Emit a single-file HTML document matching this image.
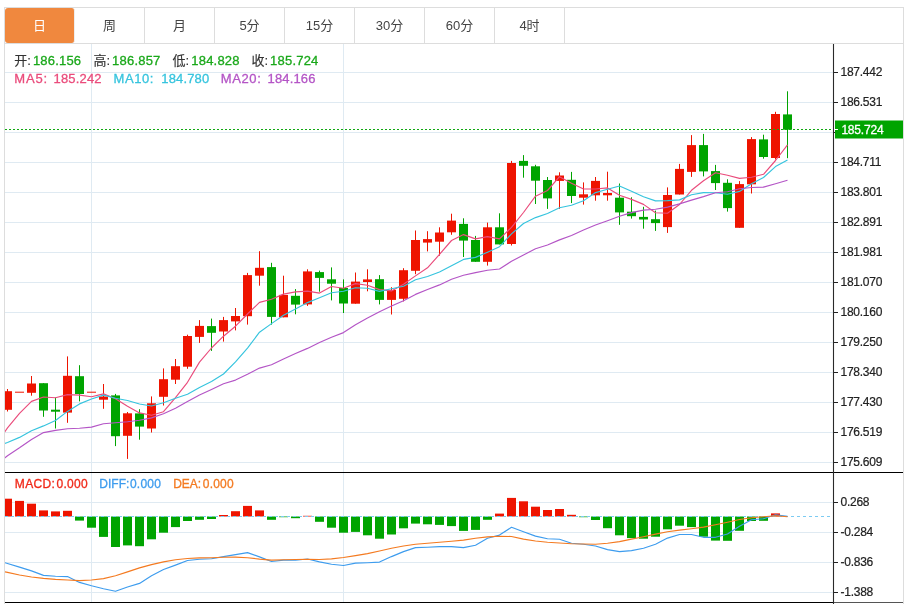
<!DOCTYPE html>
<html lang="zh-CN"><head><meta charset="utf-8"><title>K线图</title>
<style>
html,body{margin:0;padding:0;background:#fff;}
body{width:910px;height:604px;overflow:hidden;position:relative;font-family:"Liberation Sans","Noto Sans CJK SC",sans-serif;}
#box{position:absolute;left:4px;top:7px;width:898px;height:600px;border:1px solid #ddd;background:#fff;overflow:hidden;}
#tabs{position:absolute;left:0;top:0;width:898px;height:35px;border-bottom:1px solid #ddd;}
.tab{float:left;width:69px;height:35px;line-height:35px;text-align:center;font-size:13px;color:#444;border-right:1px solid #ddd;}
.tab.on{background:#f0883e;color:#fff;border-right-color:#eee;border-radius:3px;}
</style></head><body>
<div id="box"><div id="tabs"><div class="tab on">日</div><div class="tab">周</div><div class="tab">月</div><div class="tab">5分</div><div class="tab">15分</div><div class="tab">30分</div><div class="tab">60分</div><div class="tab">4时</div></div>
<svg width="898" height="560" viewBox="5 44 898 560" style="position:absolute;left:0px;top:36px;display:block" font-family="'Liberation Sans', 'Noto Sans CJK SC', sans-serif">
<defs><clipPath id="cp"><rect x="5" y="44" width="828.5" height="560"/></clipPath></defs>
<path d="M5 72.5H833 M5 102.5H833 M5 132.5H833 M5 162.5H833 M5 192.5H833 M5 222.5H833 M5 252.5H833 M5 282.5H833 M5 312.5H833 M5 342.5H833 M5 372.5H833 M5 402.5H833 M5 432.5H833 M5 462.5H833 M5 502.5H833 M5 532.5H833 M5 562.5H833 M5 592.5H833 M91.5 44V602 M343.5 44V602" stroke="#dfeaf2" stroke-width="1" fill="none" shape-rendering="crispEdges"/>
<g clip-path="url(#cp)">
<path d="M7.5 389.0V411.5" stroke="#ee1400" stroke-width="1"/>
<rect x="3" y="391.2" width="9" height="18.6" fill="#ee1400"/>
<rect x="15" y="391.7" width="9" height="1.0" fill="#ee1400"/>
<path d="M31.5 376.0V395.7" stroke="#ee1400" stroke-width="1"/>
<rect x="27" y="383.5" width="9" height="9.3" fill="#ee1400"/>
<path d="M43.5 383.2V416.8" stroke="#00a400" stroke-width="1"/>
<rect x="39" y="383.2" width="9" height="27.3" fill="#00a400"/>
<path d="M55.5 397.5V428.5" stroke="#00a400" stroke-width="1"/>
<rect x="51" y="409.7" width="9" height="2.0" fill="#00a400"/>
<path d="M67.5 356.4V422.8" stroke="#ee1400" stroke-width="1"/>
<rect x="63" y="375.8" width="9" height="36.8" fill="#ee1400"/>
<path d="M79.5 365.2V401.4" stroke="#00a400" stroke-width="1"/>
<rect x="75" y="376.2" width="9" height="17.8" fill="#00a400"/>
<rect x="87" y="391.7" width="9" height="1.0" fill="#ee1400"/>
<path d="M103.5 384.0V408.8" stroke="#ee1400" stroke-width="1"/>
<rect x="99" y="396.5" width="9" height="3.2" fill="#ee1400"/>
<path d="M115.5 393.9V446.1" stroke="#00a400" stroke-width="1"/>
<rect x="111" y="395.4" width="9" height="40.8" fill="#00a400"/>
<path d="M127.5 412.0V458.9" stroke="#ee1400" stroke-width="1"/>
<rect x="123" y="413.3" width="9" height="22.5" fill="#ee1400"/>
<path d="M139.5 409.2V439.7" stroke="#00a400" stroke-width="1"/>
<rect x="135" y="413.4" width="9" height="13.2" fill="#00a400"/>
<path d="M151.5 396.4V432.5" stroke="#ee1400" stroke-width="1"/>
<rect x="147" y="403.3" width="9" height="25.2" fill="#ee1400"/>
<path d="M163.5 368.4V405.5" stroke="#ee1400" stroke-width="1"/>
<rect x="159" y="379.2" width="9" height="17.6" fill="#ee1400"/>
<path d="M175.5 359.0V384.0" stroke="#ee1400" stroke-width="1"/>
<rect x="171" y="366.2" width="9" height="13.5" fill="#ee1400"/>
<path d="M187.5 334.7V368.8" stroke="#ee1400" stroke-width="1"/>
<rect x="183" y="336.0" width="9" height="30.7" fill="#ee1400"/>
<path d="M199.5 320.1V342.9" stroke="#ee1400" stroke-width="1"/>
<rect x="195" y="325.9" width="9" height="11.0" fill="#ee1400"/>
<path d="M211.5 318.6V350.9" stroke="#00a400" stroke-width="1"/>
<rect x="207" y="326.1" width="9" height="6.7" fill="#00a400"/>
<path d="M223.5 316.9V341.6" stroke="#ee1400" stroke-width="1"/>
<rect x="219" y="320.1" width="9" height="11.4" fill="#ee1400"/>
<path d="M235.5 308.0V330.4" stroke="#ee1400" stroke-width="1"/>
<rect x="231" y="316.0" width="9" height="5.4" fill="#ee1400"/>
<path d="M247.5 272.9V324.6" stroke="#ee1400" stroke-width="1"/>
<rect x="243" y="275.1" width="9" height="41.1" fill="#ee1400"/>
<path d="M259.5 251.2V285.7" stroke="#ee1400" stroke-width="1"/>
<rect x="255" y="267.8" width="9" height="7.9" fill="#ee1400"/>
<path d="M271.5 262.8V324.6" stroke="#00a400" stroke-width="1"/>
<rect x="267" y="267.1" width="9" height="49.8" fill="#00a400"/>
<path d="M283.5 275.7V317.3" stroke="#ee1400" stroke-width="1"/>
<rect x="279" y="294.9" width="9" height="22.4" fill="#ee1400"/>
<path d="M295.5 289.1V314.3" stroke="#00a400" stroke-width="1"/>
<rect x="291" y="295.8" width="9" height="8.8" fill="#00a400"/>
<path d="M307.5 269.3V305.9" stroke="#ee1400" stroke-width="1"/>
<rect x="303" y="271.4" width="9" height="33.0" fill="#ee1400"/>
<path d="M319.5 270.6V291.7" stroke="#00a400" stroke-width="1"/>
<rect x="315" y="272.1" width="9" height="5.8" fill="#00a400"/>
<path d="M331.5 267.4V300.4" stroke="#00a400" stroke-width="1"/>
<rect x="327" y="279.3" width="9" height="4.4" fill="#00a400"/>
<path d="M343.5 279.4V313.0" stroke="#00a400" stroke-width="1"/>
<rect x="339" y="288.0" width="9" height="15.5" fill="#00a400"/>
<path d="M355.5 272.5V303.7" stroke="#ee1400" stroke-width="1"/>
<rect x="351" y="281.6" width="9" height="22.1" fill="#ee1400"/>
<path d="M367.5 269.3V291.3" stroke="#ee1400" stroke-width="1"/>
<rect x="363" y="279.4" width="9" height="2.6" fill="#ee1400"/>
<path d="M379.5 275.1V304.4" stroke="#00a400" stroke-width="1"/>
<rect x="375" y="279.2" width="9" height="20.7" fill="#00a400"/>
<path d="M391.5 287.2V314.5" stroke="#ee1400" stroke-width="1"/>
<rect x="387" y="290.0" width="9" height="9.9" fill="#ee1400"/>
<path d="M403.5 268.2V301.4" stroke="#ee1400" stroke-width="1"/>
<rect x="399" y="270.2" width="9" height="28.6" fill="#ee1400"/>
<path d="M415.5 230.5V274.2" stroke="#ee1400" stroke-width="1"/>
<rect x="411" y="240.0" width="9" height="30.8" fill="#ee1400"/>
<path d="M427.5 231.2V251.4" stroke="#ee1400" stroke-width="1"/>
<rect x="423" y="239.1" width="9" height="3.5" fill="#ee1400"/>
<path d="M439.5 227.3V255.7" stroke="#ee1400" stroke-width="1"/>
<rect x="435" y="232.5" width="9" height="9.2" fill="#ee1400"/>
<path d="M451.5 213.7V234.8" stroke="#ee1400" stroke-width="1"/>
<rect x="447" y="220.6" width="9" height="11.7" fill="#ee1400"/>
<path d="M463.5 218.3V257.0" stroke="#00a400" stroke-width="1"/>
<rect x="459" y="223.9" width="9" height="16.7" fill="#00a400"/>
<path d="M475.5 235.9V261.8" stroke="#00a400" stroke-width="1"/>
<rect x="471" y="240.0" width="9" height="21.8" fill="#00a400"/>
<path d="M487.5 222.6V265.6" stroke="#ee1400" stroke-width="1"/>
<rect x="483" y="227.3" width="9" height="34.5" fill="#ee1400"/>
<path d="M499.5 213.3V244.4" stroke="#00a400" stroke-width="1"/>
<rect x="495" y="227.3" width="9" height="17.1" fill="#00a400"/>
<path d="M511.5 160.9V245.5" stroke="#ee1400" stroke-width="1"/>
<rect x="507" y="163.0" width="9" height="81.0" fill="#ee1400"/>
<path d="M523.5 155.1V177.7" stroke="#00a400" stroke-width="1"/>
<rect x="519" y="160.9" width="9" height="4.9" fill="#00a400"/>
<path d="M535.5 164.8V204.0" stroke="#00a400" stroke-width="1"/>
<rect x="531" y="166.3" width="9" height="14.4" fill="#00a400"/>
<path d="M547.5 177.0V208.9" stroke="#00a400" stroke-width="1"/>
<rect x="543" y="180.0" width="9" height="18.4" fill="#00a400"/>
<path d="M559.5 172.3V208.9" stroke="#ee1400" stroke-width="1"/>
<rect x="555" y="175.5" width="9" height="5.4" fill="#ee1400"/>
<path d="M571.5 171.9V203.1" stroke="#00a400" stroke-width="1"/>
<rect x="567" y="179.8" width="9" height="16.2" fill="#00a400"/>
<path d="M583.5 182.4V204.6" stroke="#ee1400" stroke-width="1"/>
<rect x="579" y="194.3" width="9" height="3.4" fill="#ee1400"/>
<path d="M595.5 177.0V200.7" stroke="#ee1400" stroke-width="1"/>
<rect x="591" y="180.9" width="9" height="14.4" fill="#ee1400"/>
<path d="M607.5 171.7V200.7" stroke="#ee1400" stroke-width="1"/>
<rect x="603" y="193.0" width="9" height="2.3" fill="#ee1400"/>
<path d="M619.5 183.5V224.8" stroke="#00a400" stroke-width="1"/>
<rect x="615" y="197.7" width="9" height="14.7" fill="#00a400"/>
<path d="M631.5 197.3V218.6" stroke="#00a400" stroke-width="1"/>
<rect x="627" y="211.7" width="9" height="4.5" fill="#00a400"/>
<path d="M643.5 206.8V228.7" stroke="#00a400" stroke-width="1"/>
<rect x="639" y="216.9" width="9" height="2.6" fill="#00a400"/>
<path d="M655.5 210.6V230.9" stroke="#00a400" stroke-width="1"/>
<rect x="651" y="219.2" width="9" height="3.9" fill="#00a400"/>
<path d="M667.5 187.4V232.9" stroke="#ee1400" stroke-width="1"/>
<rect x="663" y="195.0" width="9" height="32.1" fill="#ee1400"/>
<path d="M679.5 163.9V194.5" stroke="#ee1400" stroke-width="1"/>
<rect x="675" y="168.9" width="9" height="25.6" fill="#ee1400"/>
<path d="M691.5 135.1V176.9" stroke="#ee1400" stroke-width="1"/>
<rect x="687" y="145.1" width="9" height="26.8" fill="#ee1400"/>
<path d="M703.5 133.9V176.4" stroke="#00a400" stroke-width="1"/>
<rect x="699" y="145.1" width="9" height="26.3" fill="#00a400"/>
<path d="M715.5 164.9V190.0" stroke="#00a400" stroke-width="1"/>
<rect x="711" y="171.1" width="9" height="12.0" fill="#00a400"/>
<path d="M727.5 179.3V211.6" stroke="#00a400" stroke-width="1"/>
<rect x="723" y="182.8" width="9" height="25.3" fill="#00a400"/>
<path d="M739.5 181.1V227.8" stroke="#ee1400" stroke-width="1"/>
<rect x="735" y="184.1" width="9" height="43.7" fill="#ee1400"/>
<path d="M751.5 137.1V193.5" stroke="#ee1400" stroke-width="1"/>
<rect x="747" y="139.1" width="9" height="45.2" fill="#ee1400"/>
<path d="M763.5 134.7V158.7" stroke="#00a400" stroke-width="1"/>
<rect x="759" y="139.4" width="9" height="17.6" fill="#00a400"/>
<path d="M775.5 111.8V159.5" stroke="#ee1400" stroke-width="1"/>
<rect x="771" y="114.0" width="9" height="44.0" fill="#ee1400"/>
<path d="M787.5 91.3V158.2" stroke="#00a400" stroke-width="1"/>
<rect x="783" y="114.4" width="9" height="15.3" fill="#00a400"/>
<polyline points="-4.5,445 7.5,427.9 19.5,413.4 31.5,401.4 43.5,397 55.5,397.7 67.5,394.6 79.5,395.1 91.5,396.7 103.5,393.9 115.5,398.8 127.5,406.3 139.5,412.9 151.5,415.2 163.5,411.7 175.5,397.7 187.5,382.3 199.5,362.1 211.5,348.0 223.5,336.2 235.5,326.2 247.5,314.0 259.5,302.4 271.5,299.2 283.5,294.1 295.5,291.9 307.5,291.1 319.5,293.1 331.5,286.5 343.5,288.2 355.5,283.6 367.5,285.2 379.5,289.6 391.5,290.9 403.5,284.2 415.5,275.9 427.5,267.8 439.5,254.4 451.5,240.5 463.5,234.6 475.5,238.9 487.5,236.6 499.5,238.9 511.5,227.4 523.5,212.5 535.5,196.2 547.5,190.5 559.5,176.7 571.5,183.3 583.5,189.0 595.5,189.0 607.5,187.9 619.5,195.3 631.5,199.4 643.5,204.4 655.5,212.8 667.5,213.2 679.5,204.5 691.5,190.3 703.5,180.7 715.5,172.7 727.5,175.3 739.5,178.4 751.5,177.2 763.5,174.3 775.5,160.5 787.5,144.8" fill="none" stroke="#ea4c7c" stroke-width="1.15" stroke-linejoin="round"/>
<polyline points="-4.5,447 7.5,442.5 19.5,437.4 31.5,430.7 43.5,425.9 55.5,420.5 67.5,411.4 79.5,403.9 91.5,399 103.5,395.1 115.5,398.3 127.5,400.5 139.5,404.0 151.5,406.0 163.5,402.8 175.5,398.3 187.5,394.3 199.5,387.5 211.5,381.6 223.5,374.0 235.5,361.9 247.5,348.1 259.5,332.2 271.5,323.6 283.5,315.2 295.5,309.0 307.5,302.6 319.5,297.8 331.5,292.8 343.5,291.2 355.5,287.7 367.5,288.2 379.5,291.4 391.5,288.7 403.5,286.2 415.5,279.8 427.5,276.5 439.5,272.0 451.5,265.7 463.5,259.4 475.5,257.4 487.5,252.2 499.5,246.7 511.5,233.9 523.5,223.5 535.5,217.6 547.5,213.5 559.5,207.8 571.5,205.3 583.5,200.7 595.5,192.6 607.5,189.2 619.5,186.0 631.5,191.3 643.5,196.7 655.5,200.9 667.5,200.6 679.5,199.9 691.5,194.8 703.5,192.6 715.5,192.8 727.5,194.3 739.5,191.4 751.5,183.7 763.5,177.5 775.5,166.6 787.5,160.1" fill="none" stroke="#36c4de" stroke-width="1.15" stroke-linejoin="round"/>
<polyline points="-4.5,466 7.5,455.7 19.5,447.8 31.5,439.5 43.5,432.6 55.5,430.4 67.5,428.8 79.5,428.3 91.5,427.1 103.5,423.8 115.5,422.7 127.5,421.7 139.5,420.3 151.5,417.9 163.5,413.7 175.5,408.2 187.5,401.6 199.5,395.1 211.5,389.5 223.5,383.7 235.5,380.1 247.5,374.3 259.5,368.1 271.5,364.8 283.5,359.0 295.5,353.6 307.5,348.4 319.5,342.6 331.5,337.2 343.5,332.6 355.5,324.8 367.5,318.1 379.5,311.8 391.5,306.1 403.5,300.7 415.5,294.4 427.5,289.5 439.5,284.9 451.5,279.3 463.5,275.3 475.5,272.6 487.5,270.2 499.5,269.0 511.5,261.3 523.5,254.9 535.5,248.7 547.5,245.0 559.5,239.9 571.5,235.5 583.5,230.1 595.5,225.0 607.5,220.7 619.5,216.3 631.5,212.6 643.5,210.1 655.5,209.3 667.5,207.1 679.5,203.9 691.5,200.1 703.5,196.6 715.5,192.7 727.5,191.7 739.5,188.7 751.5,187.5 763.5,187.1 775.5,183.8 787.5,180.3" fill="none" stroke="#b455c6" stroke-width="1.15" stroke-linejoin="round"/>
<rect x="3" y="498.7" width="9" height="17.8" fill="#ee1400"/>
<rect x="15" y="500.9" width="9" height="15.6" fill="#ee1400"/>
<rect x="27" y="503.7" width="9" height="12.8" fill="#ee1400"/>
<rect x="39" y="510.4" width="9" height="6.1" fill="#ee1400"/>
<rect x="51" y="511.4" width="9" height="5.1" fill="#ee1400"/>
<rect x="63" y="510.8" width="9" height="5.7" fill="#ee1400"/>
<rect x="75" y="516.5" width="9" height="4.1" fill="#00a400"/>
<rect x="87" y="516.5" width="9" height="11.2" fill="#00a400"/>
<rect x="99" y="516.5" width="9" height="20.4" fill="#00a400"/>
<rect x="111" y="516.5" width="9" height="30.5" fill="#00a400"/>
<rect x="123" y="516.5" width="9" height="28.9" fill="#00a400"/>
<rect x="135" y="516.5" width="9" height="29.7" fill="#00a400"/>
<rect x="147" y="516.5" width="9" height="22.8" fill="#00a400"/>
<rect x="159" y="516.5" width="9" height="16.2" fill="#00a400"/>
<rect x="171" y="516.5" width="9" height="10.6" fill="#00a400"/>
<rect x="183" y="516.5" width="9" height="4.5" fill="#00a400"/>
<rect x="195" y="516.5" width="9" height="3.3" fill="#00a400"/>
<rect x="207" y="516.5" width="9" height="2.5" fill="#00a400"/>
<rect x="219" y="515" width="9" height="1.5" fill="#ee1400"/>
<rect x="231" y="511.2" width="9" height="5.3" fill="#ee1400"/>
<rect x="243" y="505.9" width="9" height="10.6" fill="#ee1400"/>
<rect x="255" y="510.4" width="9" height="6.1" fill="#ee1400"/>
<rect x="267" y="516.5" width="9" height="3.3" fill="#00a400"/>
<rect x="279" y="516.5" width="9" height="0.7" fill="#00a400"/>
<rect x="291" y="516.5" width="9" height="1.7" fill="#00a400"/>
<rect x="303" y="515.8" width="9" height="0.7" fill="#ee1400"/>
<rect x="315" y="516.5" width="9" height="5.3" fill="#00a400"/>
<rect x="327" y="516.5" width="9" height="11.2" fill="#00a400"/>
<rect x="339" y="516.5" width="9" height="16.2" fill="#00a400"/>
<rect x="351" y="516.5" width="9" height="15.4" fill="#00a400"/>
<rect x="363" y="516.5" width="9" height="18.8" fill="#00a400"/>
<rect x="375" y="516.5" width="9" height="22.2" fill="#00a400"/>
<rect x="387" y="516.5" width="9" height="18.0" fill="#00a400"/>
<rect x="399" y="516.5" width="9" height="11.8" fill="#00a400"/>
<rect x="411" y="516.5" width="9" height="7.1" fill="#00a400"/>
<rect x="423" y="516.5" width="9" height="7.8" fill="#00a400"/>
<rect x="435" y="516.5" width="9" height="8.4" fill="#00a400"/>
<rect x="447" y="516.5" width="9" height="9.6" fill="#00a400"/>
<rect x="459" y="516.5" width="9" height="14.4" fill="#00a400"/>
<rect x="471" y="516.5" width="9" height="13.4" fill="#00a400"/>
<rect x="483" y="516.5" width="9" height="3.3" fill="#00a400"/>
<rect x="495" y="513.6" width="9" height="2.9" fill="#ee1400"/>
<rect x="507" y="497.9" width="9" height="18.6" fill="#ee1400"/>
<rect x="519" y="501.3" width="9" height="15.2" fill="#ee1400"/>
<rect x="531" y="506.7" width="9" height="9.8" fill="#ee1400"/>
<rect x="543" y="510" width="9" height="6.5" fill="#ee1400"/>
<rect x="555" y="509" width="9" height="7.5" fill="#ee1400"/>
<rect x="567" y="514.8" width="9" height="1.7" fill="#ee1400"/>
<rect x="579" y="516.5" width="9" height="0.7" fill="#00a400"/>
<rect x="591" y="516.5" width="9" height="3.5" fill="#00a400"/>
<rect x="603" y="516.5" width="9" height="11.7" fill="#00a400"/>
<rect x="615" y="516.5" width="9" height="18.8" fill="#00a400"/>
<rect x="627" y="516.5" width="9" height="21.6" fill="#00a400"/>
<rect x="639" y="516.5" width="9" height="22.2" fill="#00a400"/>
<rect x="651" y="516.5" width="9" height="20.2" fill="#00a400"/>
<rect x="663" y="516.5" width="9" height="12.8" fill="#00a400"/>
<rect x="675" y="516.5" width="9" height="9.2" fill="#00a400"/>
<rect x="687" y="516.5" width="9" height="10.6" fill="#00a400"/>
<rect x="699" y="516.5" width="9" height="20.2" fill="#00a400"/>
<rect x="711" y="516.5" width="9" height="24.1" fill="#00a400"/>
<rect x="723" y="516.5" width="9" height="24.3" fill="#00a400"/>
<rect x="735" y="516.5" width="9" height="14.3" fill="#00a400"/>
<rect x="747" y="516.5" width="9" height="4.5" fill="#00a400"/>
<rect x="759" y="516.5" width="9" height="4.3" fill="#00a400"/>
<rect x="771" y="513.4" width="9" height="3.1" fill="#ee1400"/>
<path d="M5 516.5H830" stroke="#7ccbf2" stroke-width="1" stroke-dasharray="3 3" fill="none"/>
<polyline points="-4.5,560 7.5,563.5 19.5,567.1 31.5,570.9 43.5,575.4 55.5,576.2 67.5,576.6 79.5,582.4 91.5,585.8 103.5,588.7 115.5,591.3 127.5,587 139.5,583.4 151.5,575.8 163.5,569.5 175.5,565.1 187.5,560.5 199.5,559.3 211.5,558.7 223.5,556.6 235.5,554.6 247.5,552.6 259.5,556.9 271.5,561.5 283.5,560.1 295.5,560.3 307.5,559 319.5,561.9 331.5,564.3 343.5,565.5 355.5,563.1 367.5,562.7 379.5,562.1 391.5,556.6 403.5,551.6 415.5,547.6 427.5,547.2 439.5,546.6 451.5,546.6 463.5,547.6 475.5,545.2 487.5,538.3 499.5,535.1 511.5,527.3 523.5,531.7 535.5,536.1 547.5,538.7 559.5,539.3 571.5,543.2 583.5,544.2 595.5,546 607.5,549.6 619.5,551.6 631.5,550.6 643.5,548.2 655.5,544.2 667.5,538.1 679.5,534.5 691.5,534.5 703.5,537.3 715.5,537.3 727.5,534 739.5,526.2 751.5,519.8 763.5,518.7 775.5,514.8 787.5,516.4" fill="none" stroke="#3d9cee" stroke-width="1.15" stroke-linejoin="round"/>
<polyline points="-4.5,570 7.5,572.4 19.5,575 31.5,577 43.5,578.4 55.5,579.4 67.5,580 79.5,580.6 91.5,580 103.5,578.6 115.5,575.8 127.5,571.9 139.5,567.9 151.5,564.6 163.5,561.9 175.5,559.7 187.5,558.5 199.5,557.9 211.5,557.7 223.5,557.3 235.5,557.1 247.5,557.7 259.5,559.1 271.5,560.1 283.5,559.7 295.5,559.5 307.5,559.4 319.5,559.5 331.5,558.9 343.5,557.5 355.5,555.6 367.5,553.6 379.5,551 391.5,548.2 403.5,546 415.5,544.2 427.5,543.2 439.5,542.2 451.5,541.2 463.5,540.1 475.5,538.3 487.5,536.9 499.5,536.3 511.5,536.5 523.5,539.1 535.5,541 547.5,542.2 559.5,543 571.5,543.8 583.5,544 595.5,544.2 607.5,543.2 619.5,541.6 631.5,539.1 643.5,536.7 655.5,534.1 667.5,531.7 679.5,530.1 691.5,528.7 703.5,527.1 715.5,524.7 727.5,522.2 739.5,519.5 751.5,517.7 763.5,516.8 775.5,515.8 787.5,516.7" fill="none" stroke="#f47a20" stroke-width="1.15" stroke-linejoin="round"/>
</g>
<path d="M5 129.5H832" stroke="#10a810" stroke-width="1" stroke-dasharray="2 2" fill="none"/>
<path d="M5 472.5H903" stroke="#000" stroke-width="1.1" fill="none"/>
<path d="M5 602.5H834" stroke="#000" stroke-width="1.2" fill="none"/>
<path d="M834 602.5H903" stroke="#555" stroke-width="1" fill="none"/>
<path d="M833.5 44V604" stroke="#2a2a2a" stroke-width="1.1" fill="none"/>
<text x="840.5" y="76.1" font-size="12" letter-spacing="-0.25" fill="#222" stroke="#222" stroke-width="0.2">187.442</text>
<text x="840.5" y="106.1" font-size="12" letter-spacing="-0.25" fill="#222" stroke="#222" stroke-width="0.2">186.531</text>
<text x="840.5" y="166.1" font-size="12" letter-spacing="-0.25" fill="#222" stroke="#222" stroke-width="0.2">184.711</text>
<text x="840.5" y="196.1" font-size="12" letter-spacing="-0.25" fill="#222" stroke="#222" stroke-width="0.2">183.801</text>
<text x="840.5" y="226.1" font-size="12" letter-spacing="-0.25" fill="#222" stroke="#222" stroke-width="0.2">182.891</text>
<text x="840.5" y="256.1" font-size="12" letter-spacing="-0.25" fill="#222" stroke="#222" stroke-width="0.2">181.981</text>
<text x="840.5" y="286.1" font-size="12" letter-spacing="-0.25" fill="#222" stroke="#222" stroke-width="0.2">181.070</text>
<text x="840.5" y="316.1" font-size="12" letter-spacing="-0.25" fill="#222" stroke="#222" stroke-width="0.2">180.160</text>
<text x="840.5" y="346.1" font-size="12" letter-spacing="-0.25" fill="#222" stroke="#222" stroke-width="0.2">179.250</text>
<text x="840.5" y="376.1" font-size="12" letter-spacing="-0.25" fill="#222" stroke="#222" stroke-width="0.2">178.340</text>
<text x="840.5" y="406.1" font-size="12" letter-spacing="-0.25" fill="#222" stroke="#222" stroke-width="0.2">177.430</text>
<text x="840.5" y="436.1" font-size="12" letter-spacing="-0.25" fill="#222" stroke="#222" stroke-width="0.2">176.519</text>
<text x="840.5" y="466.1" font-size="12" letter-spacing="-0.25" fill="#222" stroke="#222" stroke-width="0.2">175.609</text>
<text x="840.5" y="506.1" font-size="12" letter-spacing="-0.25" fill="#222" stroke="#222" stroke-width="0.2">0.268</text>
<text x="840.5" y="536.1" font-size="12" letter-spacing="-0.25" fill="#222" stroke="#222" stroke-width="0.2">-0.284</text>
<text x="840.5" y="566.1" font-size="12" letter-spacing="-0.25" fill="#222" stroke="#222" stroke-width="0.2">-0.836</text>
<text x="840.5" y="596.1" font-size="12" letter-spacing="-0.25" fill="#222" stroke="#222" stroke-width="0.2">-1.388</text>
<path d="M834 72.5h4 M834 102.5h4 M834 132.5h4 M834 162.5h4 M834 192.5h4 M834 222.5h4 M834 252.5h4 M834 282.5h4 M834 312.5h4 M834 342.5h4 M834 372.5h4 M834 402.5h4 M834 432.5h4 M834 462.5h4 M834 502.5h4 M834 532.5h4 M834 562.5h4 M834 592.5h4" stroke="#222" stroke-width="1" fill="none" shape-rendering="crispEdges"/>
<rect x="835" y="120.5" width="68" height="18" fill="#00a400"/>
<path d="M834 129.5h4" stroke="#fff" stroke-width="1"/>
<text x="841.4" y="133.6" font-size="12" letter-spacing="-0.2" fill="#fff" stroke="#fff" stroke-width="0.3">185.724</text>
<text x="14.2" y="64.6" font-size="13" fill="#333" stroke="#333" stroke-width="0.15">开:</text>
<text x="32.9" y="64.6" font-size="13" fill="#1aa81a" stroke="#1aa81a" stroke-width="0.3" letter-spacing="0.2">186.156</text>
<text x="93.4" y="64.6" font-size="13" fill="#333" stroke="#333" stroke-width="0.15">高:</text>
<text x="112.10000000000001" y="64.6" font-size="13" fill="#1aa81a" stroke="#1aa81a" stroke-width="0.3" letter-spacing="0.2">186.857</text>
<text x="172.6" y="64.6" font-size="13" fill="#333" stroke="#333" stroke-width="0.15">低:</text>
<text x="191.29999999999998" y="64.6" font-size="13" fill="#1aa81a" stroke="#1aa81a" stroke-width="0.3" letter-spacing="0.2">184.828</text>
<text x="251.4" y="64.6" font-size="13" fill="#333" stroke="#333" stroke-width="0.15">收:</text>
<text x="270.1" y="64.6" font-size="13" fill="#1aa81a" stroke="#1aa81a" stroke-width="0.3" letter-spacing="0.2">185.724</text>
<text x="14.3" y="83" font-size="13" fill="#ea4c7c" stroke="#ea4c7c" stroke-width="0.3" letter-spacing="0.8">MA5:</text>
<text x="53.6" y="83" font-size="13" fill="#ea4c7c" stroke="#ea4c7c" stroke-width="0.3" letter-spacing="0.15">185.242</text>
<text x="113.5" y="83" font-size="13" fill="#36c4de" stroke="#36c4de" stroke-width="0.3" letter-spacing="0.6">MA10:</text>
<text x="161.3" y="83" font-size="13" fill="#36c4de" stroke="#36c4de" stroke-width="0.3" letter-spacing="0.15">184.780</text>
<text x="220.8" y="83" font-size="13" fill="#b455c6" stroke="#b455c6" stroke-width="0.3" letter-spacing="0.6">MA20:</text>
<text x="267.5" y="83" font-size="13" fill="#b455c6" stroke="#b455c6" stroke-width="0.3" letter-spacing="0.15">184.166</text>
<text x="14.8" y="488.4" font-size="12" fill="#f02818" stroke="#f02818" stroke-width="0.3" letter-spacing="0.35">MACD:</text>
<text x="56.6" y="488.4" font-size="12" fill="#f02818" stroke="#f02818" stroke-width="0.3" letter-spacing="0.25">0.000</text>
<text x="99.3" y="488.4" font-size="12" fill="#3d9cee" stroke="#3d9cee" stroke-width="0.3">DIFF:</text>
<text x="130" y="488.4" font-size="12" fill="#3d9cee" stroke="#3d9cee" stroke-width="0.3" letter-spacing="0.2">0.000</text>
<text x="173.2" y="488.4" font-size="12" fill="#f47a20" stroke="#f47a20" stroke-width="0.3">DEA:</text>
<text x="202.8" y="488.4" font-size="12" fill="#f47a20" stroke="#f47a20" stroke-width="0.3" letter-spacing="0.2">0.000</text>
</svg>
</div>
</body></html>
